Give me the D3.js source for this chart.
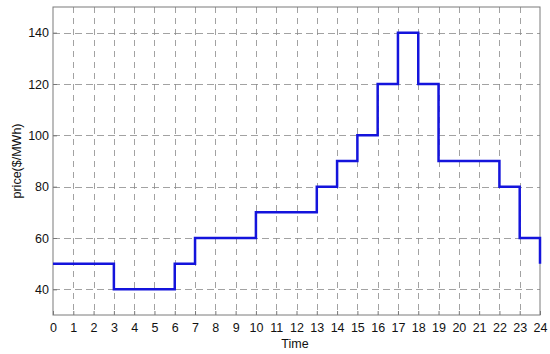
<!DOCTYPE html>
<html><head><meta charset="utf-8">
<script src="https://cdn.jsdelivr.net/npm/d3@7"></script>
<style>body{margin:0;background:#fff}svg{display:block}</style>
</head><body>
<script>
const hours = d3.range(0, 25);
const prices = [50,50,50,40,40,40,50,60,60,60,70,70,70,80,90,100,120,140,120,90,90,90,80,60,50];
const xTicks = d3.range(0, 25);
const yTicks = [40,60,80,100,120,140];

const W = 550, H = 354;
const m = {l:53, r:10, t:7, b:39};
const svg = d3.select("body").append("svg").attr("width", W).attr("height", H);
const x = d3.scaleLinear().domain([0,24]).range([m.l, W - m.r]);
const y = d3.scaleLinear().domain([30,150]).range([H - m.b, m.t]);
const font = "'Liberation Sans', Arial, Helvetica, sans-serif";
const gridC = "#8a8a8a";

// grid
const g = svg.append("g");
g.selectAll(".vg").data(xTicks.slice(1, -1)).enter().append("line")
  .attr("x1", d => Math.round(x(d)) + 0.5).attr("x2", d => Math.round(x(d)) + 0.5)
  .attr("y1", y(150)).attr("y2", y(30))
  .attr("stroke", gridC).attr("stroke-width", 0.8).attr("stroke-dasharray", "6,5");
g.selectAll(".hg").data(yTicks).enter().append("line")
  .attr("y1", d => Math.round(y(d)) + 0.5).attr("y2", d => Math.round(y(d)) + 0.5)
  .attr("x1", x(0)).attr("x2", x(24))
  .attr("stroke", gridC).attr("stroke-width", 0.8).attr("stroke-dasharray", "7,4");

// axes
const xAxis = d3.axisBottom(x).tickValues(xTicks).tickSize(-4).tickPadding(8).tickFormat(d3.format("d"));
const yAxis = d3.axisLeft(y).tickValues(yTicks).tickSize(-4).tickPadding(4);
const gx = svg.append("g").attr("transform", `translate(0,${y(30)})`).call(xAxis);
const gy = svg.append("g").attr("transform", `translate(${x(0)},0)`).call(yAxis);
[gx, gy].forEach(a => {
  a.select(".domain").remove();
  a.selectAll(".tick line").attr("stroke", "#777");
  a.selectAll("text").attr("fill", "#111").style("font-family", font).style("font-size", "12.5px");
});

// frame
svg.append("rect").attr("x", x(0)).attr("y", y(150)).attr("width", x(24) - x(0)).attr("height", y(30) - y(150))
  .attr("fill", "none").attr("stroke", "#7a7a7a").attr("stroke-width", 1);

// step line
const line = d3.line().x((d,i) => x(hours[i])).y(d => y(d)).curve(d3.curveStepAfter);
svg.append("path").datum(prices).attr("d", line)
  .attr("fill", "none").attr("stroke", "#1414dc").attr("stroke-width", 2.5);

// labels
svg.append("text").attr("x", 295).attr("y", 348).attr("text-anchor", "middle")
  .style("font-family", font).style("font-size", "12.5px").attr("fill", "#111").text("Time");
svg.append("text").attr("transform", `translate(21,${(y(30)+y(150))/2}) rotate(-90)`).attr("text-anchor", "middle")
  .style("font-family", font).style("font-size", "12.5px").attr("fill", "#111").text("price($/MWh)");
</script>
</body></html>
